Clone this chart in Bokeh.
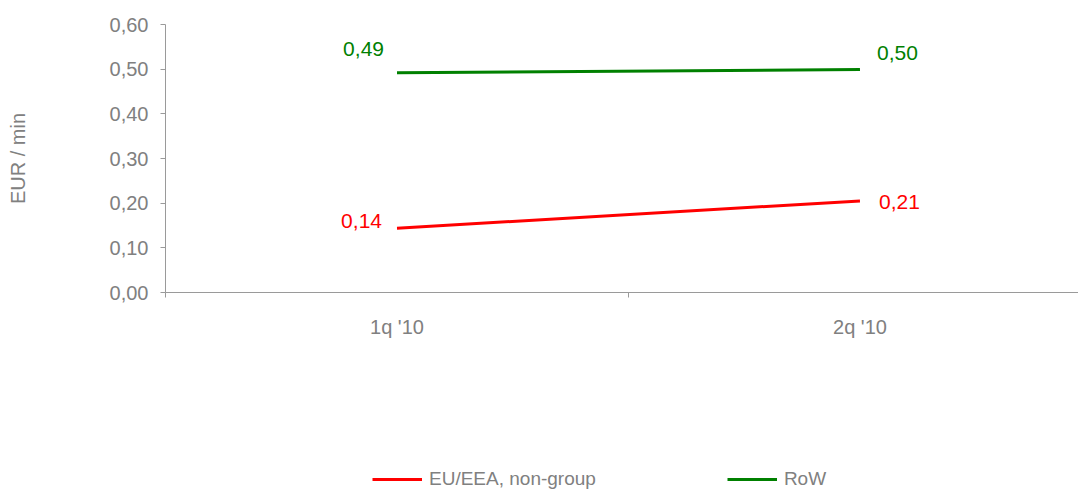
from bokeh.plotting import figure
from bokeh.layouts import column
from bokeh.models import (Range1d, FixedTicker, Legend, LegendItem, ColumnDataSource)
from bokeh.core.properties import value
from bokeh.embed import file_html
from bokeh.resources import INLINE

categories = ["1q '10", "2q '10"]
eu_values = [0.144, 0.205]
eu_labels = ["0,14", "0,21"]
row_values = [0.492, 0.499]
row_labels = ["0,49", "0,50"]
series_names = ["EU/EEA, non-group", "RoW"]
y_ticks = [0.0, 0.1, 0.2, 0.3, 0.4, 0.5, 0.6]
y_tick_labels = ["0,00", "0,10", "0,20", "0,30", "0,40", "0,50", "0,60"]

FONT = "Liberation Sans"
GREY = "#808080"
AXIS = "#9a9a9a"
RED = "#ff0000"
GREEN = "#008000"

xs = [i + 0.5 for i in range(len(categories))]

p = figure(width=1078, height=460, output_backend="svg", toolbar_location=None,
           x_range=Range1d(0, 1.972), y_range=Range1d(0, 0.6),
           min_border_left=165, min_border_right=0, min_border_top=24, min_border_bottom=168)
p.outline_line_color = None
p.grid.visible = False
p.background_fill_color = "white"
p.border_fill_color = "white"

# y axis
p.yaxis.ticker = FixedTicker(ticks=y_ticks, minor_ticks=[])
p.yaxis.major_label_overrides = {t: l for t, l in zip(y_ticks, y_tick_labels)}
p.yaxis.axis_line_color = AXIS
p.yaxis.major_tick_line_color = AXIS
p.yaxis.major_tick_in = 0
p.yaxis.major_tick_out = 5
p.yaxis.major_label_standoff = 12
p.yaxis.major_label_text_font = FONT
p.yaxis.major_label_text_font_size = "20px"
p.yaxis.major_label_text_color = GREY
p.yaxis.axis_label = "EUR / min"
p.yaxis.axis_label_text_font = FONT
p.yaxis.axis_label_text_font_size = "20px"
p.yaxis.axis_label_text_font_style = "normal"
p.yaxis.axis_label_text_color = GREY
p.yaxis.axis_label_standoff = 78

# x axis
p.xaxis.ticker = FixedTicker(ticks=xs, minor_ticks=[0, 1, 2])
p.xaxis.major_label_overrides = {x: c for x, c in zip(xs, categories)}
p.xaxis.axis_line_color = AXIS
p.xaxis.major_tick_line_color = None
p.xaxis.major_tick_in = 0
p.xaxis.major_tick_out = 0
p.xaxis.minor_tick_line_color = AXIS
p.xaxis.minor_tick_in = 0
p.xaxis.minor_tick_out = 5
p.xaxis.major_label_standoff = 18
p.xaxis.major_label_text_font = FONT
p.xaxis.major_label_text_font_size = "20px"
p.xaxis.major_label_text_color = GREY

src = ColumnDataSource(dict(x=xs, eu=eu_values, row=row_values))
p.line("x", "eu", source=src, line_color=RED, line_width=3)
p.line("x", "row", source=src, line_color=GREEN, line_width=3)

# data labels
left = ColumnDataSource(dict(x=[xs[0]], eu=[eu_values[0]], row=[row_values[0]],
                             eul=[eu_labels[0]], rowl=[row_labels[0]]))
right = ColumnDataSource(dict(x=[xs[1]], eu=[eu_values[1]], row=[row_values[1]],
                              eul=[eu_labels[1]], rowl=[row_labels[1]]))
common = dict(text_font=value(FONT), text_font_size="21px", text_baseline="middle")
p.text("x", "row", text="rowl", source=left, text_color=GREEN, text_align="right",
       x_offset=-13, y_offset=-24, **common)
p.text("x", "eu", text="eul", source=left, text_color=RED, text_align="right",
       x_offset=-15, y_offset=-7, **common)
p.text("x", "row", text="rowl", source=right, text_color=GREEN, text_align="left",
       x_offset=17, y_offset=-17, **common)
p.text("x", "eu", text="eul", source=right, text_color=RED, text_align="left",
       x_offset=19, y_offset=1, **common)

# legend strip below the chart (its ranges keep the series out of view; only the legend shows)
lf = figure(width=1078, height=31, output_backend="svg", toolbar_location=None,
            x_range=Range1d(0, 1.972), y_range=Range1d(5, 6),
            x_axis_location=None, y_axis_location=None,
            min_border=0)
lf.outline_line_color = None
lf.grid.visible = False
l_eu = lf.line("x", "eu", source=src, line_color=RED, line_width=3)
l_row = lf.line("x", "row", source=src, line_color=GREEN, line_width=3)
legend = Legend(items=[LegendItem(label=series_names[0], renderers=[l_eu]),
                       LegendItem(label=series_names[1], renderers=[l_row])],
                orientation="horizontal", location=(207, 1),
                glyph_width=50, glyph_height=20, label_height=20, label_standoff=7,
                spacing=131, padding=0, margin=0,
                label_text_font=FONT, label_text_font_size="19px", label_text_color=GREY,
                border_line_color=None, background_fill_alpha=0)
lf.add_layout(legend, "center")

layout = column(p, lf, spacing=0)
open("out.html", "w").write(file_html(layout, INLINE))
